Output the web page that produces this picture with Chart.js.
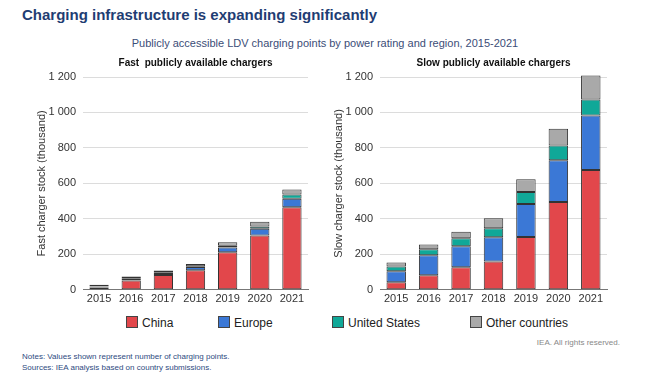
<!DOCTYPE html>
<html><head><meta charset="utf-8">
<script src="https://cdn.jsdelivr.net/npm/chart.js@4/dist/chart.umd.min.js"></script>
<style>
html,body{margin:0;padding:0;background:#fff;width:650px;height:386px;overflow:hidden;font-family:"Liberation Sans",Arial,sans-serif;}
.abs{position:absolute;white-space:nowrap;}
#title{left:22px;top:6px;font-size:15px;font-weight:bold;color:#1f3d73;}
#sub{left:0;width:650px;text-align:center;top:37px;font-size:11px;color:#3b4d77;}
#c1{position:absolute;left:30px;top:52px;}
#c2{position:absolute;left:327px;top:52px;}
#legend{left:0;top:316px;width:650px;font-size:12px;color:#222;}
.li{position:absolute;top:0;}
.sw{display:inline-block;width:10px;height:10px;border:1px solid #444;vertical-align:-1px;margin-right:4px;}
#rights{right:30px;top:338px;font-size:8px;color:#888;}
#notes{left:22px;top:351px;font-size:8px;color:#2e4a80;line-height:11px;}
</style></head><body>
<div class="abs" id="title">Charging infrastructure is expanding significantly</div>
<div class="abs" id="sub">Publicly accessible LDV charging points by power rating and region, 2015-2021</div>
<canvas id="c1" width="290" height="257"></canvas>
<canvas id="c2" width="292" height="257"></canvas>
<div class="abs" id="legend"></div>
<div class="abs" id="rights">IEA. All rights reserved.</div>
<div class="abs" id="notes">Notes: Values shown represent number of charging points.<br>Sources: IEA analysis based on country submissions.</div>
<script>
const years = ['2015','2016','2017','2018','2019','2020','2021'];
const seriesNames = ['China','Europe','United States','Other countries'];
const seriesColors = ['#e2474b','#3b78d6','#10a898','#a9a9a9'];
const yTicks = [0,200,400,600,800,1000,1200];
// Fast chargers (thousand)
const fastChina  = [13, 52, 83, 110, 212, 306, 465];
const fastEurope = [5, 11, 12, 18, 26, 38, 49];
const fastUS     = [2, 3, 4, 5, 11, 13, 24];
const fastOther  = [8, 9, 10, 13, 19, 27, 28];
// Slow chargers (thousand)
const slowChina  = [43, 82, 127, 159, 298, 495, 675];
const slowEurope = [62, 113, 119, 137, 186, 236, 308];
const slowUS     = [26, 34, 45, 51, 67, 83, 90];
const slowOther  = [23, 26, 37, 56, 73, 94, 136];

const FONT = '"Liberation Sans", Arial, sans-serif';

function makeChart(id, title, yTitle, data){
  const datasets = data.map((d,i)=>({
    label: seriesNames[i], data: d, backgroundColor: seriesColors[i],
    borderColor: '#333', borderWidth: 1, borderSkipped: false,
    barPercentage: 0.6, categoryPercentage: 1, clip: false
  }));
  return new Chart(document.getElementById(id), {
    type: 'bar',
    data: {labels: years, datasets},
    options: {
      responsive: false, animation: false,
      layout: {padding: {top: 0, right: 12, bottom: 0, left: 0}},
      plugins: {
        legend: {display: false}, tooltip: {enabled: false},
        title: {display: true, text: title, fullSize: false, color: '#111',
          font: {family: FONT, size: 10, weight: 'bold'}, padding: {top: 5, bottom: 8}}
      },
      scales: {
        x: {stacked: true, grid: {display: false, drawTicks: false},
            border: {color: '#777'},
            ticks: {color: '#333', font: {family: FONT, size: 11}, padding: 3}},
        y: {stacked: true, min: 0, max: 1200,
            afterBuildTicks: s => { s.ticks = yTicks.map(v=>({value:v})); },
            afterFit: s => { s.width = 53; },
            grid: {color: '#dcdcdc', drawTicks: false},
            border: {display: false},
            ticks: {color: '#333', font: {family: FONT, size: 11}, padding: 7,
              callback: v => String(v).replace(/\B(?=(\d{3})+(?!\d))/g, ' ')},
            title: {display: true, text: yTitle, color: '#333', font: {family: FONT, size: 11}, padding: {top: 5, bottom: 2}}
        }
      }
    }
  });
}
makeChart('c1', 'Fast  publicly available chargers', 'Fast charger stock (thousand)', [fastChina, fastEurope, fastUS, fastOther]);
makeChart('c2', 'Slow publicly available chargers', 'Slow charger stock (thousand)', [slowChina, slowEurope, slowUS, slowOther]);

const legendX = [126, 218, 332, 470];
const lg = document.getElementById('legend');
seriesNames.forEach((n,i)=>{
  const d = document.createElement('div');
  d.className = 'li'; d.style.left = legendX[i] + 'px';
  d.innerHTML = '<span class="sw" style="background:'+seriesColors[i]+'"></span>' + n;
  lg.appendChild(d);
});
</script>
</body></html>
